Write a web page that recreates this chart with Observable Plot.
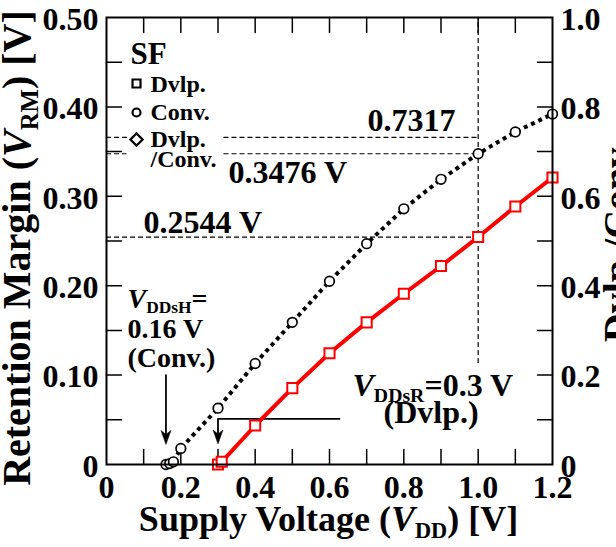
<!DOCTYPE html>
<html><head><meta charset="utf-8">
<script src="https://cdn.jsdelivr.net/npm/d3@7"></script>
<script src="https://cdn.jsdelivr.net/npm/@observablehq/plot@0.6"></script>
<style>html,body{margin:0;padding:0;background:#fff;overflow:hidden}</style>
</head><body><div id="chart"></div>
<script>
// ---- data ----
const convX = [0.16, 0.17, 0.18, 0.2, 0.3, 0.4, 0.5, 0.6, 0.7, 0.8, 0.9, 1.0, 1.1, 1.2];
const convY = [0, 0.001, 0.003, 0.018, 0.063, 0.113, 0.159, 0.205, 0.247, 0.286, 0.319, 0.3476, 0.372, 0.392];
const dvlpX = [0.3, 0.31, 0.4, 0.5, 0.6, 0.7, 0.8, 0.9, 1.0, 1.1, 1.2];
const dvlpY = [0, 0.003, 0.0436, 0.0854, 0.1245, 0.159, 0.191, 0.222, 0.2544, 0.2886, 0.321];
const xTicks = [0, 0.2, 0.4, 0.6, 0.8, 1.0, 1.2];
const xTickMarks = [0.1, 0.2, 0.3, 0.4, 0.5, 0.6, 0.7, 0.8, 0.9, 1.0, 1.1];
const yTicks = [0, 0.1, 0.2, 0.3, 0.4, 0.5];
const yTickMarks = [0.05, 0.1, 0.15, 0.2, 0.25, 0.3, 0.35, 0.4, 0.45];
const ratioMax = 1.0;           // right axis 0..1.0 maps onto left 0..0.50
const yMax = 0.5;
const refX = 1.0;               // V_DD of reference readout
const convAtRef = 0.3476;
const dvlpAtRef = 0.2544;
const ratioAtRef = 0.7317;
const vddsH = 0.16, vddsR = 0.3;

const conv = convX.map((x, i) => ({x, y: convY[i]}));
const dvlp = dvlpX.map((x, i) => ({x, y: dvlpY[i]}));
const toLeft = r => r * yMax / ratioMax;

const ML = 106, MR = 64, MT = 17, MB = 83;
const FONT = "'Liberation Serif', 'Times New Roman', serif";

function label(str, X, Y, o = {}) {
  return Plot.text([str], {text: d => d, frameAnchor: "top-left", dx: X - ML, dy: Y - MT,
    textAnchor: "start", lineAnchor: "bottom", fontSize: 32, fill: "black", ...o});
}
const tickShape = {draw(ctx, l) { ctx.moveTo(0, 0); ctx.lineTo(0, -l); }};
const headShape = {draw(ctx) { ctx.moveTo(0, 0); ctx.lineTo(-5, -14); ctx.lineTo(0, -10); ctx.lineTo(5, -14); ctx.closePath(); }};
const fmtY = d => d === 0 ? "0" : d.toFixed(2);
const fmtX = d => d === 0 ? "0" : d.toFixed(1);
const fmtR = d => { const r = d * ratioMax / yMax; return r === 0 ? "0" : r.toFixed(1); };
const dash = {stroke: "black", strokeWidth: 1.2, strokeDasharray: "5,3"};

const chart = Plot.plot({
  width: 616, height: 547,
  marginLeft: ML, marginRight: MR, marginTop: MT, marginBottom: MB,
  x: {domain: [0, 1.2], label: null},
  y: {domain: [0, yMax], label: null},
  style: {fontFamily: FONT, fontWeight: "bold", background: "white", color: "black"},
  marks: [
    // reference dashed lines
    Plot.ruleY([convAtRef], {x1: 0, x2: 0.055, ...dash}),
    Plot.ruleY([convAtRef], {x1: 0.316, x2: refX, ...dash}),
    Plot.ruleY([toLeft(ratioAtRef)], {x1: 0, x2: 0.062, ...dash}),
    Plot.ruleY([toLeft(ratioAtRef)], {x1: 0.316, x2: refX, ...dash}),
    Plot.ruleY([dvlpAtRef], {x1: 0, x2: refX, ...dash}),
    Plot.ruleX([refX], {y1: 0.113, y2: yMax, ...dash}),
    // ticks (inward)
    Plot.vector(xTickMarks, {x: d => d, frameAnchor: "bottom", length: 15, rotate: 0, anchor: "start", shape: tickShape, stroke: "black", strokeWidth: 1.5}),
    Plot.vector(xTickMarks, {x: d => d, frameAnchor: "top", length: 15, rotate: 180, anchor: "start", shape: tickShape, stroke: "black", strokeWidth: 1.5}),
    Plot.vector(yTickMarks, {y: d => d, frameAnchor: "left", length: 15, rotate: 90, anchor: "start", shape: tickShape, stroke: "black", strokeWidth: 1.5}),
    Plot.vector(yTickMarks, {y: d => d, frameAnchor: "right", length: 15, rotate: -90, anchor: "start", shape: tickShape, stroke: "black", strokeWidth: 1.5}),
    // axes labels
    Plot.axisX({ticks: xTicks, tickSize: 0, tickPadding: 11, tickFormat: fmtX, fontSize: 32, label: null}),
    Plot.axisY({ticks: yTicks, tickSize: 0, tickPadding: 8, tickFormat: fmtY, fontSize: 32, dy: 2, label: null}),
    Plot.axisY({anchor: "right", ticks: yTicks, tickSize: 0, tickPadding: 8, tickFormat: fmtR, fontSize: 32, dy: 2, label: null}),
    // arrows
    Plot.line([{x: vddsH, y: 0.1}, {x: vddsH, y: 0.034}], {x: "x", y: "y", stroke: "black", strokeWidth: 1.8}),
    Plot.dot([{x: vddsH, y: 0.0224}], {x: "x", y: "y", symbol: headShape, fill: "black", stroke: "black", strokeWidth: 0.5}),
    Plot.line([{x: 0.627, y: 0.0511}, {x: vddsR, y: 0.0511}, {x: vddsR, y: 0.034}], {x: "x", y: "y", stroke: "black", strokeWidth: 1.8}),
    Plot.dot([{x: vddsR, y: 0.023}], {x: "x", y: "y", symbol: headShape, fill: "black", stroke: "black", strokeWidth: 0.5}),
    // series
    Plot.line(conv, {x: "x", y: "y", stroke: "black", strokeWidth: 4, strokeDasharray: "4,4", strokeLinecap: "butt", strokeLinejoin: "miter"}),
    Plot.dot(conv, {x: "x", y: "y", r: 4.8, fill: "white", stroke: "black", strokeWidth: 1.7}),
    Plot.line(dvlp, {x: "x", y: "y", stroke: "#ff0000", strokeWidth: 4}),
    Plot.dot(dvlp, {x: "x", y: "y", symbol: "square", r: 5.7, fill: "white", stroke: "#ff0000", strokeWidth: 2}),
    // legend
    label("SF", 130, 63, {fontSize: 31}),
    Plot.dot([0], {frameAnchor: "top-left", dx: 136 - ML, dy: 83 - MT, symbol: "square", r: 4.5, fill: "white", stroke: "black", strokeWidth: 2.2}),
    Plot.dot([0], {frameAnchor: "top-left", dx: 136 - ML, dy: 112 - MT, symbol: "circle", r: 4, fill: "white", stroke: "black", strokeWidth: 2.2}),
    Plot.dot([0], {frameAnchor: "top-left", dx: 136 - ML, dy: 139 - MT, symbol: "diamond2", r: 5.5, fill: "white", stroke: "black", strokeWidth: 2.2}),
    label("Dvlp.", 150, 91, {fontSize: 24}),
    label("Conv.", 150, 119, {fontSize: 24}),
    label("Dvlp.", 150, 146, {fontSize: 24}),
    label("/Conv.", 150, 166, {fontSize: 24}),
    // annotations
    label(ratioAtRef.toFixed(4), 367, 130),
    label(convAtRef.toFixed(4) + " V", 228, 182),
    label(dvlpAtRef.toFixed(4) + " V", 143, 232),
    label("_V_{DDsH}=", 127, 307, {fontSize: 28}),
    label(vddsH.toFixed(2) + " V", 127, 337, {fontSize: 28}),
    label("(Conv.)", 127, 366, {fontSize: 28}),
    label("_V_{DDsR}=" + vddsR.toFixed(1) + " V", 352, 395),
    label("(Dvlp.)", 383, 422),
    // axis titles
    Plot.text(["Supply Voltage (_V_{DD}) [V]"], {text: d => d, frameAnchor: "bottom", dy: 530 - (547 - MB), lineAnchor: "bottom", textAnchor: "middle", fontSize: 36, dx: 328 - (ML + (616 - ML - MR) / 2)}),
    Plot.text(["Retention Margin (_V_{RM}) [V]"], {text: d => d, frameAnchor: "left", dx: 29 - ML, dy: 7, rotate: -90, lineAnchor: "bottom", textAnchor: "middle", fontSize: 40}),
    Plot.text(["Dvlp./Conv."], {text: d => d, frameAnchor: "right", dx: 630 - (616 - MR), rotate: -90, lineAnchor: "bottom", textAnchor: "middle", fontSize: 40}),
    Plot.frame({stroke: "black", strokeWidth: 2})
  ]
});
document.getElementById("chart").appendChild(chart);

// rich text: _X_ italic, {X} subscript
chart.querySelectorAll("text").forEach(t => {
  const s = t.textContent;
  if (!/[_{]/.test(s)) return;
  const fsz = parseFloat(getComputedStyle(t).fontSize);
  const sub = (fsz * 0.62).toFixed(1), drop = (fsz * 0.2).toFixed(1);
  const re = /_([^_]+)_|\{([^}]+)\}|([^_{]+)/g;
  let m, html = "", shifted = false;
  while ((m = re.exec(s))) {
    const back = shifted ? ` dy="-${drop}"` : "";
    if (m[1]) { html += `<tspan font-style="italic"${back}>${m[1]}</tspan>`; shifted = false; }
    else if (m[2]) { html += `<tspan font-size="${sub}" dy="${drop}">${m[2]}</tspan>`; shifted = true; }
    else { html += `<tspan${back}>${m[3]}</tspan>`; shifted = false; }
  }
  t.innerHTML = html;
});
</script>
</body></html>
